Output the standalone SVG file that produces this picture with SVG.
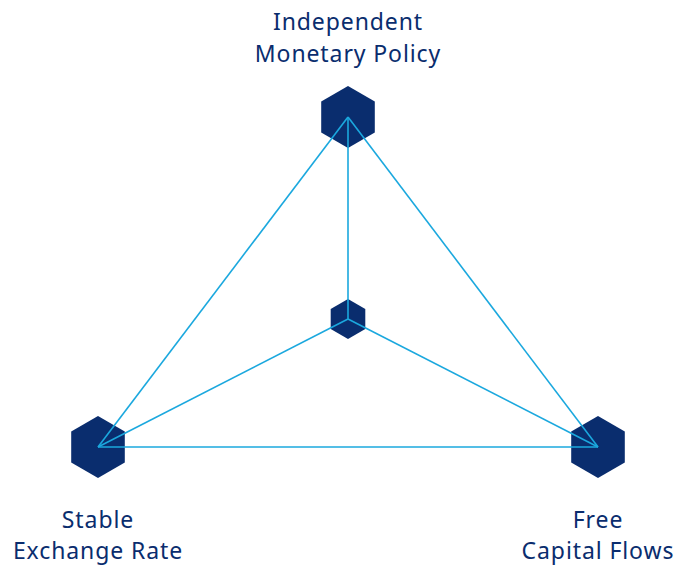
<svg xmlns="http://www.w3.org/2000/svg" width="680" height="566" viewBox="0 0 680 566">
<defs>
<style>
.hex{fill:#0a2d6e;}
.ln{stroke:#1ba8de;stroke-width:1.6;fill:none;}
.lbl{font-family:"Noto Sans","Open Sans",sans-serif;font-size:23px;letter-spacing:0.9px;fill:#0a2d6e;text-anchor:middle;}
</style>
<polygon id="hexBig" points="0,-31 26.8,-15.5 26.8,15.5 0,31 -26.8,15.5 -26.8,-15.5"/>
<polygon id="hexSmall" points="0,-20 17.3,-10 17.3,10 0,20 -17.3,10 -17.3,-10"/>
</defs>
<rect width="680" height="566" fill="#ffffff"/>
<g id="node-top">
<use href="#hexBig" class="hex" x="348" y="117"/>
<text class="lbl" x="348" y="30">Independent</text>
<text class="lbl" x="348" y="62">Monetary Policy</text>
</g>
<g id="node-center">
<use href="#hexSmall" class="hex" x="348" y="319"/>
</g>
<g id="node-left">
<use href="#hexBig" class="hex" x="98" y="447"/>
<text class="lbl" x="98" y="528">Stable</text>
<text class="lbl" x="98" y="559">Exchange Rate</text>
</g>
<g id="node-right">
<use href="#hexBig" class="hex" x="598" y="447"/>
<text class="lbl" x="598" y="528">Free</text>
<text class="lbl" x="598" y="559">Capital Flows</text>
</g>
<g id="connectors">
<line class="ln" x1="348" y1="117" x2="98" y2="447"/>
<line class="ln" x1="348" y1="117" x2="598" y2="447"/>
<line class="ln" x1="98" y1="447" x2="598" y2="447"/>
<line class="ln" x1="348" y1="117" x2="348" y2="319"/>
<line class="ln" x1="348" y1="319" x2="98" y2="447"/>
<line class="ln" x1="348" y1="319" x2="598" y2="447"/>
</g>
</svg>
